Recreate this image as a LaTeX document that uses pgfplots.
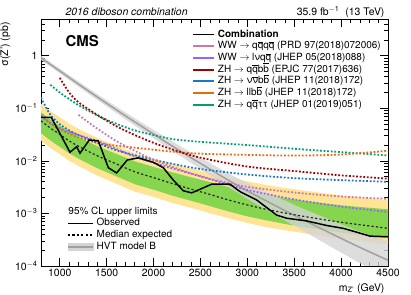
\documentclass[border=0pt]{standalone}
\usepackage{fontspec}
\setmainfont{TeX Gyre Heros}
\usepackage{pgfplots}
\pgfplotsset{compat=1.18}
\usepackage{pgfplotstable}
\usepgfplotslibrary{fillbetween}

\definecolor{bandgreen}{RGB}{133,214,78}
\definecolor{bandyellow}{RGB}{255,228,150}
\definecolor{cpink}{RGB}{204,121,167}
\definecolor{cpurple}{RGB}{150,100,255}
\definecolor{cred}{RGB}{165,0,0}
\definecolor{cblue}{RGB}{25,120,200}
\definecolor{corange}{RGB}{228,108,10}
\definecolor{cteal}{RGB}{0,158,115}
\definecolor{hvtline}{RGB}{160,160,160}
\definecolor{hvtband}{RGB}{212,212,212}

\newcommand{\ob}[1]{\ensuremath{\overline{\mbox{#1}}}}

\pgfplotstableread{
m exp gup gdn yup ydn
800 0.058 0.0841 0.03364 0.1218 0.02436
900 0.042 0.06132 0.02436 0.0882 0.01764
1000 0.032 0.04704 0.01856 0.06784 0.01344
1100 0.024 0.03552 0.01392 0.05112 0.01008
1200 0.019 0.02831 0.01102 0.04085 0.00798
1400 0.0125 0.019 0.00725 0.02725 0.00525
1600 0.0088 0.01364 0.0051 0.01954 0.0037
1800 0.0062 0.0098 0.0036 0.0140 0.0026
2000 0.0048 0.00768 0.00283 0.01104 0.00206
2200 0.0037 0.00607 0.00218 0.00881 0.00159
2400 0.0029 0.00487 0.00174 0.00713 0.00128
2600 0.0023 0.00396 0.00138 0.00589 0.00101
2800 0.0018 0.00317 0.00109 0.00482 0.00081
3000 0.00145 0.00261 0.00088 0.00406 0.00066
3200 0.0012 0.00223 0.00074 0.00348 0.00055
3400 0.00102 0.00196 0.00063 0.00306 0.00048
3600 0.00088 0.00174 0.00055 0.00273 0.00042
3800 0.00077 0.00157 0.00049 0.00245 0.00037
4000 0.00068 0.00143 0.00043 0.00221 0.00033
4200 0.00061 0.00133 0.00039 0.00203 0.00030
4400 0.00055 0.00124 0.00035 0.00186 0.00027
4500 0.00052 0.00120 0.00034 0.00177 0.00026
}\bandtab

\pgfplotstableread{
m val up dn
800 0.912 1.0 0.832
1000 0.513 0.569 0.463
1200 0.288 0.323 0.257
1400 0.164 0.186 0.1445
1600 0.0944 0.1084 0.0822
1800 0.0550 0.0646 0.0468
2000 0.0324 0.0389 0.0270
2200 0.0191 0.0235 0.01553
2400 0.01148 0.01445 0.00912
2600 0.0070 0.00912 0.00537
2800 0.00427 0.00576 0.00317
3000 0.00269 0.0038 0.0019
3200 0.00174 0.00257 0.001176
3400 0.001135 0.001758 0.000733
3600 0.00075 0.001217 0.000462
3800 0.000501 0.000871 0.000288
4000 0.000335 0.000624 0.000180
4200 0.000226 0.000451 0.000113
4400 0.000155 0.000339 0.0000708
4500 0.000129 0.000296 0.0000563
}\hvttab

\pgfplotstableread{
m obs
800 0.067
910 0.067
1109 0.0146
1180 0.0186
1216 0.014
1315 0.025
1411 0.024
1518 0.0074
1607 0.0059
1720 0.0104
1838 0.0114
1998 0.0094
2104 0.0074
2211 0.0043
2317 0.0027
2407 0.00246
2620 0.0036
2815 0.0036
2922 0.0026
3100 0.0018
3313 0.00093
3420 0.00081
3633 0.00072
3846 0.00059
4023 0.00052
4166 0.00044
4308 0.00037
4500 0.00036
}\obstab

\pgfplotsset{chan/.style={line width=1.8pt, dash pattern=on 1.8pt off 1.8pt, smooth, forget plot}}

\begin{document}
\begin{tikzpicture}
\begin{axis}[
  at={(41bp,29bp)}, anchor=south west,
  scale only axis, width=347bp, height=247bp,
  xmin=800, xmax=4500, ymode=log, ymin=1e-4, ymax=5,
  xtick={1000,1500,...,4500}, minor x tick num=4,
  ytick={1e-4,1e-3,1e-2,1e-1,1},
  yticklabels={10\textsuperscript{\(-\)4},10\textsuperscript{\(-\)3},10\textsuperscript{\(-\)2},10\textsuperscript{\(-\)1},1},
  minor ytick={2e-4,3e-4,4e-4,5e-4,6e-4,7e-4,8e-4,9e-4,2e-3,3e-3,4e-3,5e-3,6e-3,7e-3,8e-3,9e-3,2e-2,3e-2,4e-2,5e-2,6e-2,7e-2,8e-2,9e-2,0.2,0.3,0.4,0.5,0.6,0.7,0.8,0.9,2,3,4,5},
  tick align=inside, major tick length=8bp, minor tick length=4bp,
  tick label style={font=\fontsize{10.5}{12}\selectfont},
  /pgf/number format/assume math mode=true, /pgf/number format/1000 sep={},
  axis line style={line width=0.8bp},
  every tick/.style={black, line width=0.6bp},
  xlabel={m\textsubscript{Z'} (GeV)}, ylabel={σ(Z') (pb)},
  label style={font=\fontsize{10.5}{12}\selectfont},
  xlabel style={at={(rel axis cs:1,0)}, anchor=north east, yshift=-14bp},
  ylabel style={at={(rel axis cs:-0.078,1)}, anchor=south east},
  legend style={at={(rel axis cs:0.435,0.96)}, anchor=north west, draw=none, fill=none, inner sep=0pt,
    font=\fontsize{10}{12}\selectfont, row sep=0.7bp,
    nodes={inner xsep=3bp, inner ysep=0.5bp, text height=7.5bp, text depth=2.5bp}},
  legend cell align=left,
  legend image code/.code={\draw[line width=1.8pt,#1] (0bp,0bp) -- (21bp,0bp);},
]
% bands
\addplot[draw=none, name path=yu, forget plot] table[x=m,y=yup]{\bandtab};
\addplot[draw=none, name path=yd, forget plot] table[x=m,y=ydn]{\bandtab};
\addplot[fill=bandyellow, draw=none, forget plot] fill between[of=yu and yd];
\addplot[draw=none, name path=gu, forget plot] table[x=m,y=gup]{\bandtab};
\addplot[draw=none, name path=gd, forget plot] table[x=m,y=gdn]{\bandtab};
\addplot[fill=bandgreen, draw=none, forget plot] fill between[of=gu and gd];
% HVT
\addplot[draw=none, name path=hu, forget plot, smooth] table[x=m,y=up]{\hvttab};
\addplot[draw=none, name path=hd, forget plot, smooth] table[x=m,y=dn]{\hvttab};
\addplot[fill=hvtband, fill opacity=0.8, draw=none, forget plot] fill between[of=hu and hd];
\addplot[hvtline, line width=1.5pt, smooth, forget plot] table[x=m,y=val]{\hvttab};
% channels
\addplot[cteal, chan] coordinates {(900,0.28)(1000,0.20)(1100,0.15)(1200,0.115)(1400,0.073)(1600,0.051)(1800,0.038)(2000,0.031)(2200,0.026)(2500,0.023)(3000,0.020)(3500,0.017)(4000,0.0147)(4500,0.0127)};
\addplot[corange, chan] coordinates {(800,0.075)(900,0.052)(1000,0.040)(1200,0.028)(1400,0.022)(1600,0.0195)(1800,0.0178)(2000,0.0163)(2200,0.015)(2500,0.0137)(3000,0.0130)(3500,0.0126)(4000,0.0132)(4500,0.0156)};
\addplot[cred, chan] coordinates {(1000,0.38)(1100,0.20)(1200,0.13)(1400,0.075)(1600,0.046)(1800,0.031)(2000,0.022)(2200,0.0165)(2500,0.0115)(3000,0.0078)(3500,0.0064)(4000,0.0053)(4500,0.0046)};
\addplot[cblue, chan] coordinates {(800,0.16)(900,0.075)(1000,0.050)(1100,0.038)(1200,0.031)(1400,0.022)(1600,0.016)(1800,0.0128)(2000,0.0105)(2200,0.0088)(2500,0.0070)(3000,0.0055)(3500,0.0047)(4000,0.0043)(4500,0.0040)};
\addplot[cpurple, chan] coordinates {(800,0.07)(900,0.052)(1000,0.042)(1200,0.031)(1400,0.024)(1600,0.017)(1800,0.012)(2000,0.0092)(2200,0.0072)(2400,0.0057)(2600,0.0045)(2800,0.0035)(3000,0.0028)(3500,0.00185)(4000,0.00135)(4500,0.00107)};
\addplot[cpink, chan] coordinates {(1200,0.075)(1300,0.055)(1400,0.041)(1600,0.024)(1800,0.0155)(2000,0.0105)(2200,0.0077)(2400,0.0058)(2600,0.0046)(2800,0.0038)(3000,0.0032)(3500,0.0025)(4000,0.0021)(4500,0.0019)};
% expected and observed
\addplot[black!85, line width=1.2pt, dash pattern=on 2.2pt off 2.2pt, smooth, forget plot] table[x=m,y=exp]{\bandtab};
\addplot[black, line width=1.5pt, forget plot] table[x=m,y=obs]{\obstab};
% legend
\addlegendimage{black}
\addlegendentry{\textbf{Combination}}
\addlegendimage{cpink}
\addlegendentry{WW $\rightarrow$ q\ob{q}q\ob{q} (PRD 97(2018)072006)}
\addlegendimage{cpurple}
\addlegendentry{WW $\rightarrow$ lνq\ob{q} (JHEP 05(2018)088)}
\addlegendimage{cred}
\addlegendentry{ZH $\rightarrow$ q\ob{q}b\ob{b} (EPJC 77(2017)636)}
\addlegendimage{cblue}
\addlegendentry{ZH $\rightarrow$ ν\ob{ν}b\ob{b} (JHEP 11(2018)172)}
\addlegendimage{corange}
\addlegendentry{ZH $\rightarrow$ llb\ob{b} (JHEP 11(2018)172)}
\addlegendimage{cteal}
\addlegendentry{ZH $\rightarrow$ q\ob{q}ττ (JHEP 01(2019)051)}
\end{axis}
\begin{axis}[
  at={(41bp,29bp)}, anchor=south west,
  scale only axis, width=347bp, height=247bp,
  xmin=800, xmax=4500, ymode=log, ymin=1e-4, ymax=5,
  hide axis, clip=false,
  legend style={at={(rel axis cs:0.075,0.1955)}, anchor=north west, draw=none, fill=none, inner sep=0pt,
    font=\fontsize{10}{12}\selectfont, row sep=0.7bp,
    nodes={inner xsep=3bp, inner ysep=0.5bp, text height=7.5bp, text depth=2.5bp}},
  legend cell align=left,
  legend image code/.code={\draw[#1] (0bp,0bp) -- (25bp,0bp);},
]
\addplot[draw=none, forget plot] coordinates {(1000,1e-3)};
\addlegendimage{black, line width=1.5pt}
\addlegendentry{Observed}
\addlegendimage{black, line width=1.4pt, dash pattern=on 2.2pt off 2.2pt}
\addlegendentry{Median expected}
\addlegendimage{legend image code/.code={\fill[hvtband] (0bp,-3.5bp) rectangle (25bp,3.5bp); \draw[hvtline, line width=1.5pt] (0bp,0bp) -- (25bp,0bp);}}
\addlegendentry{HVT model B}
\node[anchor=west, font=\fontsize{10}{12}\selectfont] at (rel axis cs:0.069,0.22) {95\% CL upper limits};
\node[anchor=base west, font=\fontsize{15}{18}\selectfont\bfseries] at (rel axis cs:0.0605,0.887) {CMS};
\node[anchor=base west, font=\fontsize{10.5}{12}\selectfont\itshape] at (rel axis cs:0.0605,1.016) {2016 diboson combination};
\node[anchor=base east, font=\fontsize{10.5}{12}\selectfont] at (rel axis cs:1,1.016) {35.9 fb\textsuperscript{\(-\)1}\ \ (13 TeV)};
\end{axis}
\pgfresetboundingbox
\path (0,0) rectangle (411bp,295bp);
\end{tikzpicture}
\end{document}
